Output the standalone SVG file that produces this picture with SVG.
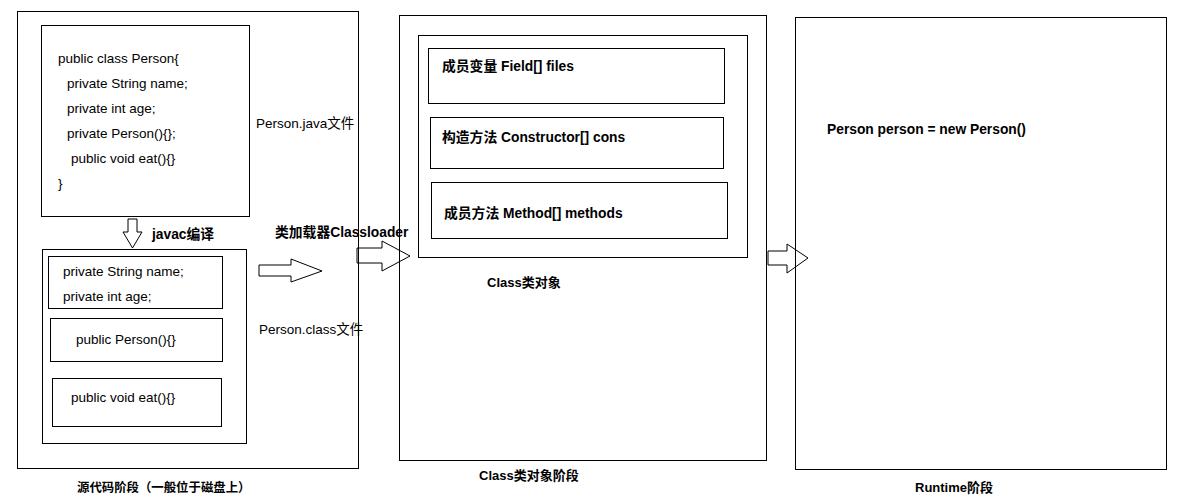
<svg xmlns="http://www.w3.org/2000/svg" width="1188" height="497" viewBox="0 0 1188 497">
<style>
  .box{fill:none;stroke:#000;stroke-width:1;shape-rendering:crispEdges}
  .arr{fill:#fff;stroke:#000;stroke-width:1}
  .t{font-family:"Liberation Sans","Noto Sans CJK SC",sans-serif;font-size:13.5px;fill:#000}
  .b{font-family:"Liberation Sans","Noto Sans CJK SC",sans-serif;font-size:13.8px;font-weight:bold;fill:#000}
  .s{font-size:13px}
</style>
<rect width="1188" height="497" fill="#fff"/>
<g id="connectors">
  <polygon class="arr" points="128,219 137,219 137,232 142,232 132.5,248 123,232 128,232"/>
  <polygon class="arr" points="259,265 291,265 291,259 322,271 291,282 291,276 259,276"/>
  <polygon class="arr" points="357,248 382,248 382,241 410,256 382,271 382,263 357,263"/>
  <polygon class="arr" points="768,251 787,251 787,244 808,258 787,273 787,265 768,265"/>
  <text class="b" x="152" y="239">javac编译</text>
  <text class="b" x="275" y="237">类加载器Classloader</text>
</g>
<g id="source-stage">
  <rect class="box" x="17.5" y="11.5" width="341" height="457"/>
  <text class="t" x="256" y="128">Person.java文件</text>
  <text class="t" x="259" y="334">Person.class文件</text>
  <text class="b" x="77" y="492" style="font-size:12.4px">源代码阶段（一般位于磁盘上）</text>
</g>
<g id="java-file">
  <rect class="box" x="41.5" y="25.5" width="208" height="191"/>
  <text class="t" x="58" y="63">public class Person{</text>
  <text class="t" x="67" y="88">private String name;</text>
  <text class="t" x="67" y="113">private int age;</text>
  <text class="t" x="67" y="138">private Person(){};</text>
  <text class="t" x="71" y="163">public void eat(){}</text>
  <text class="t" x="58" y="188">}</text>
</g>
<g id="class-file">
  <rect class="box" x="42.5" y="249.5" width="204" height="194"/>
  <rect class="box" x="48.5" y="256.5" width="174" height="52"/>
  <text class="t" x="63" y="276">private String name;</text>
  <text class="t" x="63" y="301">private int age;</text>
  <rect class="box" x="50.5" y="318.5" width="172" height="43"/>
  <text class="t" x="76" y="344">public Person(){}</text>
  <rect class="box" x="52.5" y="378.5" width="169" height="48"/>
  <text class="t" x="71" y="402">public void eat(){}</text>
</g>
<g id="class-object-stage">
  <rect class="box" x="399.5" y="15.5" width="367" height="445"/>
  <text class="b s" x="479" y="480">Class类对象阶段</text>
</g>
<g id="class-object">
  <rect class="box" x="418.5" y="35.5" width="329" height="222"/>
  <rect class="box" x="428.5" y="48.5" width="296" height="55"/>
  <text class="b" x="442" y="71">成员变量 Field[] files</text>
  <rect class="box" x="430.5" y="117.5" width="293" height="51"/>
  <text class="b" x="442" y="142">构造方法 Constructor[] cons</text>
  <rect class="box" x="431.5" y="182.5" width="296" height="56"/>
  <text class="b" x="444" y="218">成员方法 Method[] methods</text>
  <text class="b s" x="487" y="287">Class类对象</text>
</g>
<g id="runtime-stage">
  <rect class="box" x="795.5" y="17.5" width="371" height="452"/>
  <text class="b" x="827" y="134">Person person = new Person()</text>
  <text class="b s" x="915" y="492">Runtime阶段</text>
</g>
</svg>
